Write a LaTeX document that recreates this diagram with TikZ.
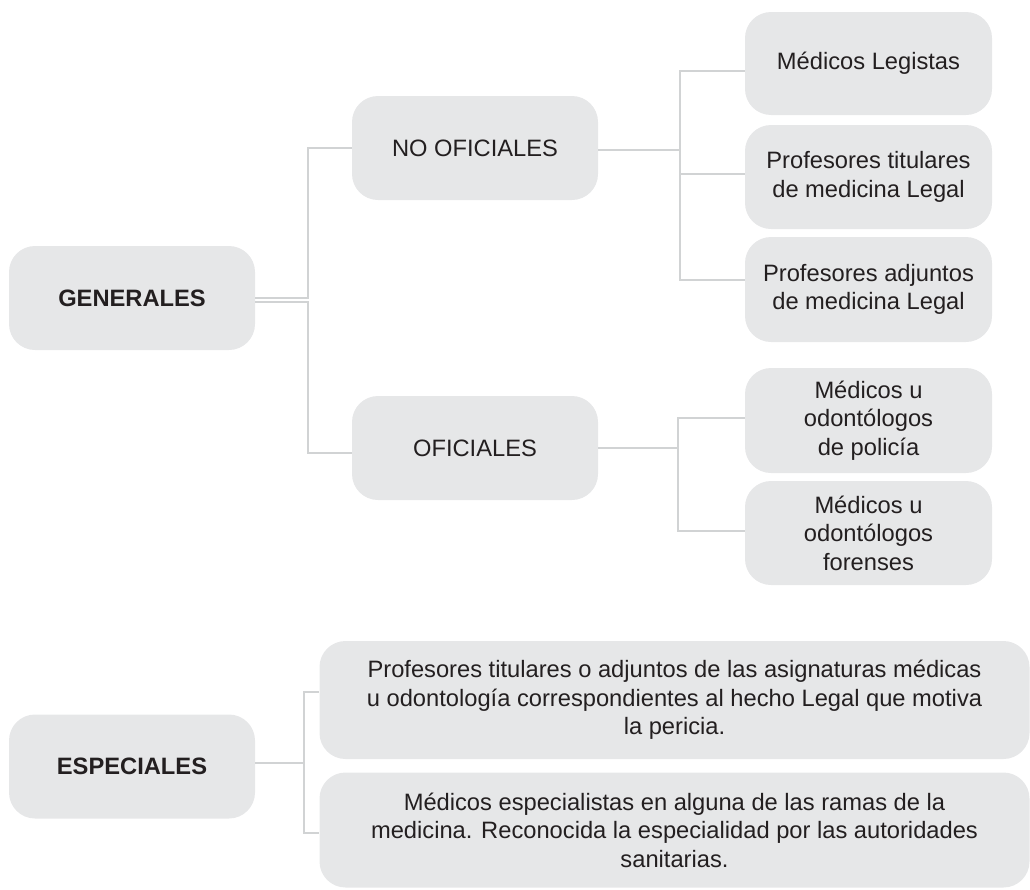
\documentclass[tikz,border=0pt]{standalone}
\usepackage{fontspec}
\setmainfont{Liberation Sans}
\definecolor{boxfill}{HTML}{E6E7E8}
\definecolor{linec}{HTML}{D1D3D4}
\definecolor{txt}{HTML}{231F20}
\begin{document}
\begin{tikzpicture}[x=1pt,y=-1pt,
  box/.style={fill=boxfill, rounded corners=26pt, inner sep=0pt, align=center,
    text=txt, font=\fontsize{23.7}{28.5}\selectfont},
  mainbox/.style={box, font=\fontsize{23.7}{28.5}\selectfont\bfseries,
    minimum width=246pt, minimum height=104pt},
  midbox/.style={box, minimum width=246pt, minimum height=104pt},
  leafbox/.style={box, minimum width=247pt},
  widebox/.style={box, minimum width=710pt},
  conn/.style={draw=linec, line width=1.6pt}]
\useasboundingbox (0,0) rectangle (1030,889);

% main nodes
\node[mainbox] (gen) at (132,298) {GENERALES};
\node[mainbox] (esp) at (132,766.5) {ESPECIALES};

\node[midbox] (noof) at (475,148) {NO OFICIALES};
\node[midbox] (of) at (475,448) {OFICIALES};

\node[leafbox, minimum height=103pt] (leg) at (868.5,63.5) {Médicos Legistas};
\node[leafbox, minimum height=104pt] (tit) at (868.5,177) {Profesores titulares\\de medicina Legal};
\node[leafbox, minimum height=105pt] (adj) at (868.5,289.5) {Profesores adjuntos\\de medicina Legal};
\node[leafbox, minimum height=105pt] (pol) at (868.5,420.5) {Médicos u\\odontólogos\\de policía};
\node[leafbox, minimum height=104pt] (for) at (868.5,533) {Médicos u\\odontólogos\\forenses};

\node[widebox, minimum height=118pt] (wa) at (674.5,700) {Profesores titulares o adjuntos de las asignaturas médicas\\u odontología correspondientes al hecho Legal que motiva\\la pericia.};
\node[widebox, minimum height=115pt] (wb) at (674.5,830) {Médicos especialistas en alguna de las ramas de la\\medicina. Reconocida la especialidad por las autoridades\\sanitarias.};

% attachment points
\coordinate (genA) at (gen.east);
\coordinate (genB) at ([yshift=-4pt]gen.east);
\coordinate (ofIn) at ([yshift=-5pt]of.west);
\coordinate (noofOut) at ([yshift=-2pt]noof.east);
\coordinate (legIn) at ([yshift=-7.5pt]leg.west);
\coordinate (titIn) at ([yshift=3pt]tit.west);
\coordinate (adjIn) at ([yshift=9.5pt]adj.west);
\coordinate (polIn) at ([yshift=2.5pt]pol.west);
\coordinate (forIn) at ([yshift=2pt]for.west);
\coordinate (espOut) at ([yshift=3.5pt]esp.east);
\coordinate (waIn) at ([yshift=8pt]wa.west);
\coordinate (wbIn) at ([yshift=-3pt]wb.west);

% junction columns
\coordinate (j1) at (308,0);
\coordinate (j2) at (680,0);
\coordinate (j3) at (678,0);
\coordinate (j4) at (304,0);

% GENERALES connectors
\draw[conn] (genA) -| (j1 |- noof.west) -- (noof.west);
\draw[conn] (genB) -| (j1 |- ofIn) -- (ofIn);

% NO OFICIALES connectors
\draw[conn] (noofOut) -| (j2 |- legIn) -- (legIn);
\draw[conn] (j2 |- noofOut) |- (titIn);
\draw[conn] (j2 |- noofOut) |- (adjIn);

% OFICIALES connectors
\draw[conn] (of.east) -| (j3 |- polIn) -- (polIn);
\draw[conn] (j3 |- of.east) |- (forIn);

% ESPECIALES connectors
\draw[conn] (espOut) -| (j4 |- waIn) -- (waIn);
\draw[conn] (j4 |- espOut) |- (wbIn);
\end{tikzpicture}
\end{document}
